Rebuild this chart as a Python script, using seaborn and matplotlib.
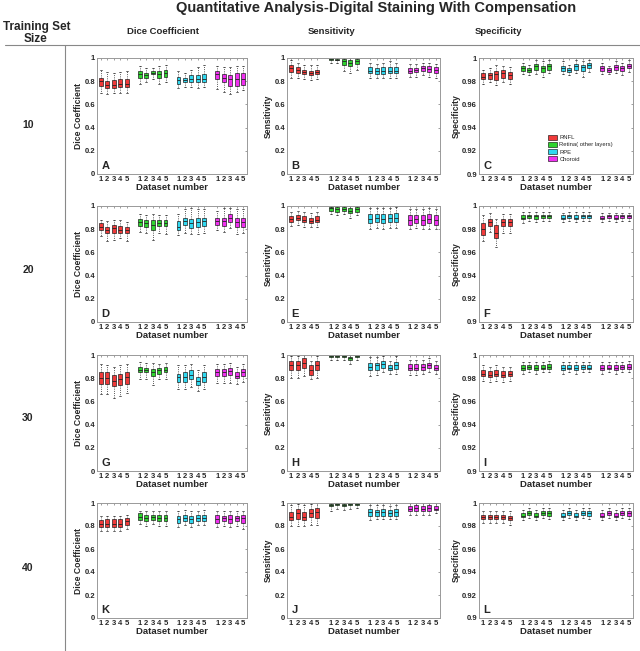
import numpy as np
import pandas as pd
import matplotlib
matplotlib.use('Agg')
import matplotlib.pyplot as plt
import seaborn as sns
from matplotlib.patches import Patch
from matplotlib.lines import Line2D

layers = ['RNFL', 'Retina( other layers)', 'RPE', 'Choroid']
datasets = [1, 2, 3, 4, 5]
training_sizes = ['10', '20', '30', '40']
metrics = ['Dice Coefficient', 'Sensitivity', 'Specificity']
letters = [['A', 'B', 'C'], ['D', 'E', 'F'], ['G', 'H', 'I'], ['K', 'J', 'L']]
colors = ['#f03a3a', '#2ed42e', '#30d8f0', '#f030f0']

# one tuple per box: (lower whisker, q1, median, q3, upper whisker)
# order: RNFL 1-5, Retina 1-5, RPE 1-5, Choroid 1-5
dice_10 = [(0.70, 0.76, 0.80, 0.83, 0.90), (0.69, 0.74, 0.77, 0.80, 0.88), (0.70, 0.74, 0.77, 0.81, 0.87),
           (0.70, 0.75, 0.78, 0.82, 0.88), (0.70, 0.75, 0.78, 0.82, 0.89),
           (0.78, 0.83, 0.86, 0.89, 0.93), (0.79, 0.83, 0.85, 0.87, 0.91), (0.82, 0.86, 0.875, 0.89, 0.91),
           (0.78, 0.83, 0.86, 0.89, 0.93), (0.79, 0.84, 0.87, 0.90, 0.94),
           (0.74, 0.78, 0.81, 0.84, 0.89), (0.75, 0.79, 0.81, 0.83, 0.87), (0.75, 0.79, 0.82, 0.85, 0.90),
           (0.74, 0.79, 0.82, 0.85, 0.92), (0.75, 0.79, 0.82, 0.86, 0.94),
           (0.73, 0.82, 0.86, 0.89, 0.93), (0.71, 0.79, 0.83, 0.86, 0.92), (0.69, 0.76, 0.82, 0.85, 0.92),
           (0.71, 0.76, 0.82, 0.87, 0.93), (0.72, 0.77, 0.82, 0.87, 0.93)]
sens_10 = [(0.83, 0.88, 0.91, 0.94, 0.98), (0.83, 0.87, 0.90, 0.92, 0.96), (0.82, 0.86, 0.88, 0.90, 0.94),
           (0.81, 0.85, 0.87, 0.89, 0.94), (0.82, 0.86, 0.88, 0.90, 0.94),
           (0.96, 0.98, 0.99, 1.00, 1.00), (0.96, 0.98, 0.985, 0.99, 1.00), (0.89, 0.94, 0.97, 0.99, 1.00),
           (0.87, 0.93, 0.96, 0.98, 1.00), (0.90, 0.95, 0.97, 0.99, 1.00),
           (0.83, 0.87, 0.89, 0.92, 0.96), (0.83, 0.86, 0.885, 0.91, 0.95), (0.83, 0.86, 0.89, 0.92, 0.96),
           (0.83, 0.87, 0.89, 0.92, 0.97), (0.83, 0.87, 0.89, 0.92, 0.96),
           (0.84, 0.87, 0.89, 0.91, 0.95), (0.84, 0.88, 0.90, 0.91, 0.95), (0.85, 0.89, 0.91, 0.93, 0.96),
           (0.84, 0.88, 0.905, 0.93, 0.96), (0.83, 0.87, 0.90, 0.92, 0.95)]
spec_10 = [(0.978, 0.982, 0.984, 0.987, 0.990), (0.979, 0.982, 0.985, 0.987, 0.991), (0.977, 0.981, 0.986, 0.989, 0.994),
           (0.979, 0.983, 0.987, 0.990, 0.993), (0.978, 0.982, 0.985, 0.988, 0.992),
           (0.986, 0.989, 0.991, 0.993, 0.996), (0.985, 0.988, 0.990, 0.991, 0.994), (0.986, 0.990, 0.993, 0.995, 0.998),
           (0.984, 0.988, 0.991, 0.993, 0.997), (0.987, 0.990, 0.993, 0.995, 0.998),
           (0.986, 0.989, 0.991, 0.993, 0.997), (0.985, 0.988, 0.990, 0.991, 0.994), (0.987, 0.990, 0.993, 0.995, 0.998),
           (0.984, 0.989, 0.992, 0.994, 0.997), (0.988, 0.991, 0.994, 0.996, 0.998),
           (0.986, 0.989, 0.991, 0.993, 0.996), (0.986, 0.988, 0.990, 0.991, 0.993), (0.987, 0.990, 0.992, 0.994, 0.997),
           (0.985, 0.989, 0.991, 0.993, 0.996), (0.988, 0.991, 0.993, 0.995, 0.998)]

dice_20 = [(0.74, 0.79, 0.82, 0.85, 0.88), (0.70, 0.77, 0.79, 0.82, 0.87), (0.71, 0.77, 0.81, 0.84, 0.88),
           (0.72, 0.77, 0.79, 0.83, 0.88), (0.70, 0.77, 0.79, 0.82, 0.86),
           (0.78, 0.83, 0.86, 0.89, 0.93), (0.77, 0.82, 0.85, 0.88, 0.92), (0.71, 0.79, 0.84, 0.88, 0.93),
           (0.77, 0.83, 0.85, 0.88, 0.92), (0.76, 0.83, 0.85, 0.88, 0.92),
           (0.75, 0.79, 0.82, 0.87, 0.93), (0.77, 0.84, 0.87, 0.90, 0.97), (0.76, 0.81, 0.85, 0.89, 0.98),
           (0.76, 0.82, 0.86, 0.90, 0.97), (0.77, 0.83, 0.87, 0.90, 0.97),
           (0.79, 0.84, 0.87, 0.90, 0.96), (0.78, 0.83, 0.87, 0.90, 0.98), (0.81, 0.86, 0.90, 0.93, 0.98),
           (0.76, 0.82, 0.86, 0.90, 0.97), (0.77, 0.82, 0.86, 0.90, 0.97)]
sens_20 = [(0.83, 0.86, 0.89, 0.91, 0.95), (0.84, 0.88, 0.90, 0.92, 0.96), (0.82, 0.86, 0.88, 0.91, 0.95),
           (0.82, 0.85, 0.87, 0.90, 0.94), (0.82, 0.86, 0.88, 0.91, 0.95),
           (0.93, 0.96, 0.98, 0.99, 1.00), (0.92, 0.95, 0.97, 0.99, 1.00), (0.93, 0.96, 0.97, 0.99, 1.00),
           (0.90, 0.94, 0.96, 0.98, 1.00), (0.92, 0.95, 0.97, 0.99, 1.00),
           (0.80, 0.85, 0.89, 0.93, 0.98), (0.81, 0.86, 0.90, 0.93, 0.98), (0.80, 0.85, 0.89, 0.93, 0.98),
           (0.81, 0.86, 0.90, 0.93, 0.98), (0.81, 0.86, 0.90, 0.94, 0.99),
           (0.80, 0.84, 0.88, 0.92, 0.97), (0.81, 0.85, 0.89, 0.92, 0.97), (0.80, 0.84, 0.88, 0.92, 0.97),
           (0.80, 0.85, 0.89, 0.93, 0.98), (0.80, 0.84, 0.88, 0.92, 0.97)]
spec_20 = [(0.970, 0.975, 0.980, 0.985, 0.992), (0.978, 0.983, 0.986, 0.989, 0.994), (0.965, 0.972, 0.977, 0.984, 0.989),
           (0.977, 0.983, 0.986, 0.989, 0.993), (0.977, 0.983, 0.986, 0.989, 0.993),
           (0.985, 0.989, 0.990, 0.992, 0.995), (0.987, 0.990, 0.991, 0.992, 0.995), (0.986, 0.989, 0.991, 0.992, 0.995),
           (0.987, 0.990, 0.991, 0.992, 0.995), (0.987, 0.990, 0.991, 0.992, 0.995),
           (0.986, 0.989, 0.990, 0.992, 0.994), (0.987, 0.990, 0.991, 0.992, 0.995), (0.986, 0.989, 0.990, 0.992, 0.995),
           (0.987, 0.990, 0.991, 0.992, 0.995), (0.987, 0.990, 0.991, 0.992, 0.995),
           (0.986, 0.989, 0.990, 0.991, 0.994), (0.987, 0.990, 0.991, 0.992, 0.994), (0.986, 0.989, 0.990, 0.992, 0.994),
           (0.987, 0.990, 0.991, 0.992, 0.994), (0.987, 0.990, 0.991, 0.992, 0.994)]

dice_30 = [(0.66, 0.75, 0.80, 0.85, 0.92), (0.66, 0.75, 0.80, 0.85, 0.91), (0.63, 0.73, 0.78, 0.83, 0.90),
           (0.65, 0.74, 0.79, 0.84, 0.91), (0.67, 0.75, 0.81, 0.85, 0.92),
           (0.79, 0.85, 0.87, 0.90, 0.94), (0.79, 0.85, 0.87, 0.89, 0.93), (0.74, 0.82, 0.85, 0.88, 0.93),
           (0.79, 0.84, 0.87, 0.89, 0.92), (0.79, 0.85, 0.87, 0.90, 0.93),
           (0.71, 0.77, 0.81, 0.84, 0.91), (0.71, 0.77, 0.81, 0.85, 0.91), (0.72, 0.79, 0.83, 0.87, 0.92),
           (0.69, 0.74, 0.78, 0.81, 0.87), (0.71, 0.77, 0.81, 0.85, 0.91),
           (0.76, 0.82, 0.85, 0.88, 0.92), (0.76, 0.82, 0.85, 0.88, 0.92), (0.76, 0.83, 0.86, 0.89, 0.93),
           (0.75, 0.80, 0.82, 0.85, 0.90), (0.77, 0.82, 0.85, 0.88, 0.92)]
sens_30 = [(0.80, 0.87, 0.91, 0.95, 0.99), (0.80, 0.87, 0.91, 0.95, 0.99), (0.82, 0.89, 0.93, 0.97, 1.00),
           (0.79, 0.83, 0.87, 0.91, 0.95), (0.80, 0.87, 0.91, 0.95, 0.99),
           (0.96, 0.98, 0.99, 1.00, 1.00), (0.96, 0.98, 0.99, 1.00, 1.00), (0.96, 0.98, 0.99, 1.00, 1.00),
           (0.92, 0.96, 0.97, 0.98, 1.00), (0.96, 0.98, 0.99, 1.00, 1.00),
           (0.82, 0.87, 0.90, 0.93, 0.98), (0.83, 0.87, 0.91, 0.93, 0.98), (0.85, 0.89, 0.92, 0.95, 0.99),
           (0.84, 0.87, 0.89, 0.91, 0.95), (0.84, 0.88, 0.91, 0.94, 0.99),
           (0.83, 0.87, 0.89, 0.92, 0.96), (0.83, 0.87, 0.89, 0.92, 0.96), (0.84, 0.87, 0.895, 0.92, 0.96),
           (0.85, 0.89, 0.91, 0.93, 0.97), (0.84, 0.87, 0.89, 0.91, 0.95)]
spec_30 = [(0.978, 0.982, 0.984, 0.987, 0.991), (0.977, 0.981, 0.983, 0.986, 0.990), (0.978, 0.982, 0.984, 0.987, 0.991),
           (0.977, 0.981, 0.983, 0.986, 0.990), (0.978, 0.982, 0.984, 0.986, 0.990),
           (0.984, 0.987, 0.989, 0.991, 0.994), (0.985, 0.988, 0.990, 0.991, 0.994), (0.984, 0.987, 0.989, 0.991, 0.994),
           (0.985, 0.988, 0.989, 0.991, 0.994), (0.985, 0.988, 0.990, 0.992, 0.995),
           (0.984, 0.987, 0.989, 0.991, 0.994), (0.985, 0.988, 0.989, 0.991, 0.994), (0.984, 0.987, 0.989, 0.991, 0.994),
           (0.985, 0.988, 0.990, 0.991, 0.994), (0.985, 0.988, 0.989, 0.991, 0.994),
           (0.984, 0.987, 0.989, 0.991, 0.994), (0.985, 0.988, 0.989, 0.991, 0.994), (0.984, 0.987, 0.989, 0.991, 0.994),
           (0.985, 0.988, 0.990, 0.991, 0.994), (0.985, 0.988, 0.990, 0.992, 0.995)]

dice_40 = [(0.76, 0.79, 0.82, 0.85, 0.89), (0.76, 0.79, 0.82, 0.86, 0.89), (0.76, 0.79, 0.82, 0.86, 0.89),
           (0.76, 0.79, 0.82, 0.86, 0.89), (0.77, 0.81, 0.84, 0.87, 0.90),
           (0.82, 0.85, 0.88, 0.91, 0.93), (0.80, 0.84, 0.87, 0.90, 0.93), (0.82, 0.85, 0.88, 0.90, 0.93),
           (0.80, 0.84, 0.87, 0.90, 0.93), (0.80, 0.84, 0.87, 0.90, 0.93),
           (0.79, 0.83, 0.86, 0.89, 0.93), (0.81, 0.84, 0.87, 0.90, 0.94), (0.79, 0.83, 0.86, 0.89, 0.93),
           (0.81, 0.84, 0.87, 0.90, 0.93), (0.81, 0.84, 0.87, 0.90, 0.94),
           (0.79, 0.83, 0.86, 0.90, 0.93), (0.80, 0.84, 0.87, 0.89, 0.93), (0.79, 0.83, 0.86, 0.90, 0.93),
           (0.80, 0.84, 0.87, 0.89, 0.93), (0.77, 0.83, 0.87, 0.90, 0.93)]
sens_40 = [(0.80, 0.85, 0.88, 0.92, 0.98), (0.80, 0.86, 0.91, 0.95, 0.99), (0.80, 0.85, 0.88, 0.92, 0.98),
           (0.81, 0.88, 0.91, 0.95, 0.99), (0.81, 0.87, 0.92, 0.96, 1.00),
           (0.93, 0.97, 0.98, 0.99, 1.00), (0.95, 0.98, 0.99, 1.00, 1.00), (0.94, 0.97, 0.98, 0.99, 1.00),
           (0.95, 0.98, 0.99, 1.00, 1.00), (0.96, 0.98, 0.99, 1.00, 1.00),
           (0.85, 0.89, 0.92, 0.95, 0.98), (0.86, 0.89, 0.92, 0.94, 0.98), (0.86, 0.89, 0.92, 0.95, 0.98),
           (0.86, 0.89, 0.91, 0.94, 0.97), (0.86, 0.89, 0.92, 0.95, 0.98),
           (0.90, 0.93, 0.95, 0.97, 1.00), (0.90, 0.93, 0.96, 0.98, 1.00), (0.90, 0.93, 0.95, 0.97, 1.00),
           (0.90, 0.93, 0.96, 0.98, 1.00), (0.91, 0.94, 0.95, 0.97, 1.00)]
spec_40 = [(0.983, 0.986, 0.988, 0.990, 0.993), (0.983, 0.986, 0.988, 0.990, 0.993), (0.983, 0.986, 0.988, 0.990, 0.993),
           (0.983, 0.986, 0.988, 0.990, 0.993), (0.981, 0.985, 0.987, 0.989, 0.993),
           (0.985, 0.988, 0.989, 0.991, 0.994), (0.987, 0.990, 0.991, 0.993, 0.996), (0.985, 0.988, 0.989, 0.991, 0.994),
           (0.987, 0.990, 0.991, 0.993, 0.996), (0.986, 0.989, 0.991, 0.993, 0.996),
           (0.985, 0.988, 0.989, 0.991, 0.994), (0.987, 0.990, 0.991, 0.993, 0.996), (0.985, 0.988, 0.989, 0.991, 0.994),
           (0.987, 0.990, 0.991, 0.993, 0.996), (0.986, 0.989, 0.991, 0.993, 0.996),
           (0.985, 0.988, 0.989, 0.991, 0.994), (0.987, 0.990, 0.991, 0.993, 0.996), (0.985, 0.988, 0.989, 0.991, 0.994),
           (0.987, 0.990, 0.991, 0.993, 0.996), (0.986, 0.989, 0.991, 0.993, 0.996)]

panels = [[dice_10, sens_10, spec_10],
          [dice_20, sens_20, spec_20],
          [dice_30, sens_30, spec_30],
          [dice_40, sens_40, spec_40]]


def to_frame(boxes):
    """Long table: each box summary becomes five samples at its x position"""
    rows = []
    for i, stats in enumerate(boxes):
        g, d = divmod(i, 5)
        for v in stats:
            rows.append({'pos': g * 6 + datasets[d], 'layer': layers[g], 'val': v})
    return pd.DataFrame(rows)


sns.set_style('white')
plt.rcParams['font.family'] = ['Liberation Sans', 'DejaVu Sans']

W, H = 640, 651
fig = plt.figure(figsize=(W / 100, H / 100), dpi=100)

col_x = [(97, 247), (287, 440), (479, 633)]
row_y = [(58, 174), (206, 322), (355, 471), (503, 618)]
row_label_y = [125, 270, 418, 568]
col_head_x = [163, 332, 498]

for r in range(4):
    for c in range(3):
        x0, x1 = col_x[c]
        y0, y1 = row_y[r]
        ax = fig.add_axes([x0 / W, 1 - y1 / H, (x1 - x0) / W, (y1 - y0) / H])
        df = to_frame(panels[r][c])
        sns.boxplot(data=df, x='pos', y='val', hue='layer', hue_order=layers,
                    palette=colors, saturation=1, native_scale=True, dodge=False,
                    whis=(0, 100), width=0.6, linewidth=0.5, linecolor='#222222',
                    legend=False, ax=ax,
                    whiskerprops=dict(linestyle=':', linewidth=0.6),
                    medianprops=dict(color='#222222', linewidth=0.6))
        ax.set_xlim(0.4, 23.6)
        pos = sorted(df['pos'].unique())
        ax.set_xticks(pos)
        ax.set_xticklabels([str(datasets[(p - 1) % 6]) for p in pos])
        if c == 2:
            ax.set_ylim(0.9, 1.0)
            ax.set_yticks([0.9, 0.92, 0.94, 0.96, 0.98, 1.0])
            ax.set_yticklabels(['0.9', '0.92', '0.94', '0.96', '0.98', '1'])
        else:
            ax.set_ylim(0, 1)
            ax.set_yticks([0, 0.2, 0.4, 0.6, 0.8, 1.0])
            ax.set_yticklabels(['0', '0.2', '0.4', '0.6', '0.8', '1'])
        ax.tick_params(direction='in', length=1.5, width=0.4, labelsize=5.5,
                       top=True, right=True, pad=1.5, color='#555555')
        for lab in ax.get_xticklabels() + ax.get_yticklabels():
            lab.set_fontweight('bold')
        for s in ax.spines.values():
            s.set_color('#999999')
            s.set_linewidth(0.7)
        ax.set_xlabel('Dataset number', fontsize=6.8, fontweight='bold', labelpad=0)
        ax.set_ylabel(metrics[c], fontsize=6.2, fontweight='bold', labelpad=1)
        ax.text(0.03, 0.03, letters[r][c], transform=ax.transAxes,
                fontsize=8, fontweight='bold', va='bottom', ha='left')
        if r == 0 and c == 2:
            handles = [Patch(facecolor=col, edgecolor='black', linewidth=0.4, label=lab)
                       for col, lab in zip(colors, layers)]
            ax.legend(handles=handles, loc='lower left', bbox_to_anchor=(0.42, 0.07),
                      fontsize=4.2, frameon=False, handlelength=1.6, handleheight=0.9,
                      labelspacing=0.3, handletextpad=0.4, borderpad=0.2)

fig.text(376 / W, 1 - 8 / H, 'Quantitative Analysis-Digital Staining With Compensation',
         fontsize=10.5, fontweight='bold', ha='center', va='center')
for c in range(3):
    fig.text(col_head_x[c] / W, 1 - 32 / H, metrics[c], fontsize=6.8,
             fontweight='bold', ha='center', va='center')
fig.text(37 / W, 1 - 27 / H, 'Training Set', fontsize=8.5, fontweight='bold', ha='center', va='center')
fig.text(36 / W, 1 - 39 / H, 'Size', fontsize=8.5, fontweight='bold', ha='center', va='center')
for r in range(4):
    fig.text(28 / W, 1 - row_label_y[r] / H, training_sizes[r], fontsize=7.5,
             fontweight='bold', ha='center', va='center')

fig.add_artist(Line2D([5 / W, 1], [1 - 45 / H, 1 - 45 / H], transform=fig.transFigure,
                      color='#888888', linewidth=0.8))
fig.add_artist(Line2D([65 / W, 65 / W], [1 - 45 / H, 0], transform=fig.transFigure,
                      color='#888888', linewidth=0.8))

fig.savefig('out.png', dpi=100)
